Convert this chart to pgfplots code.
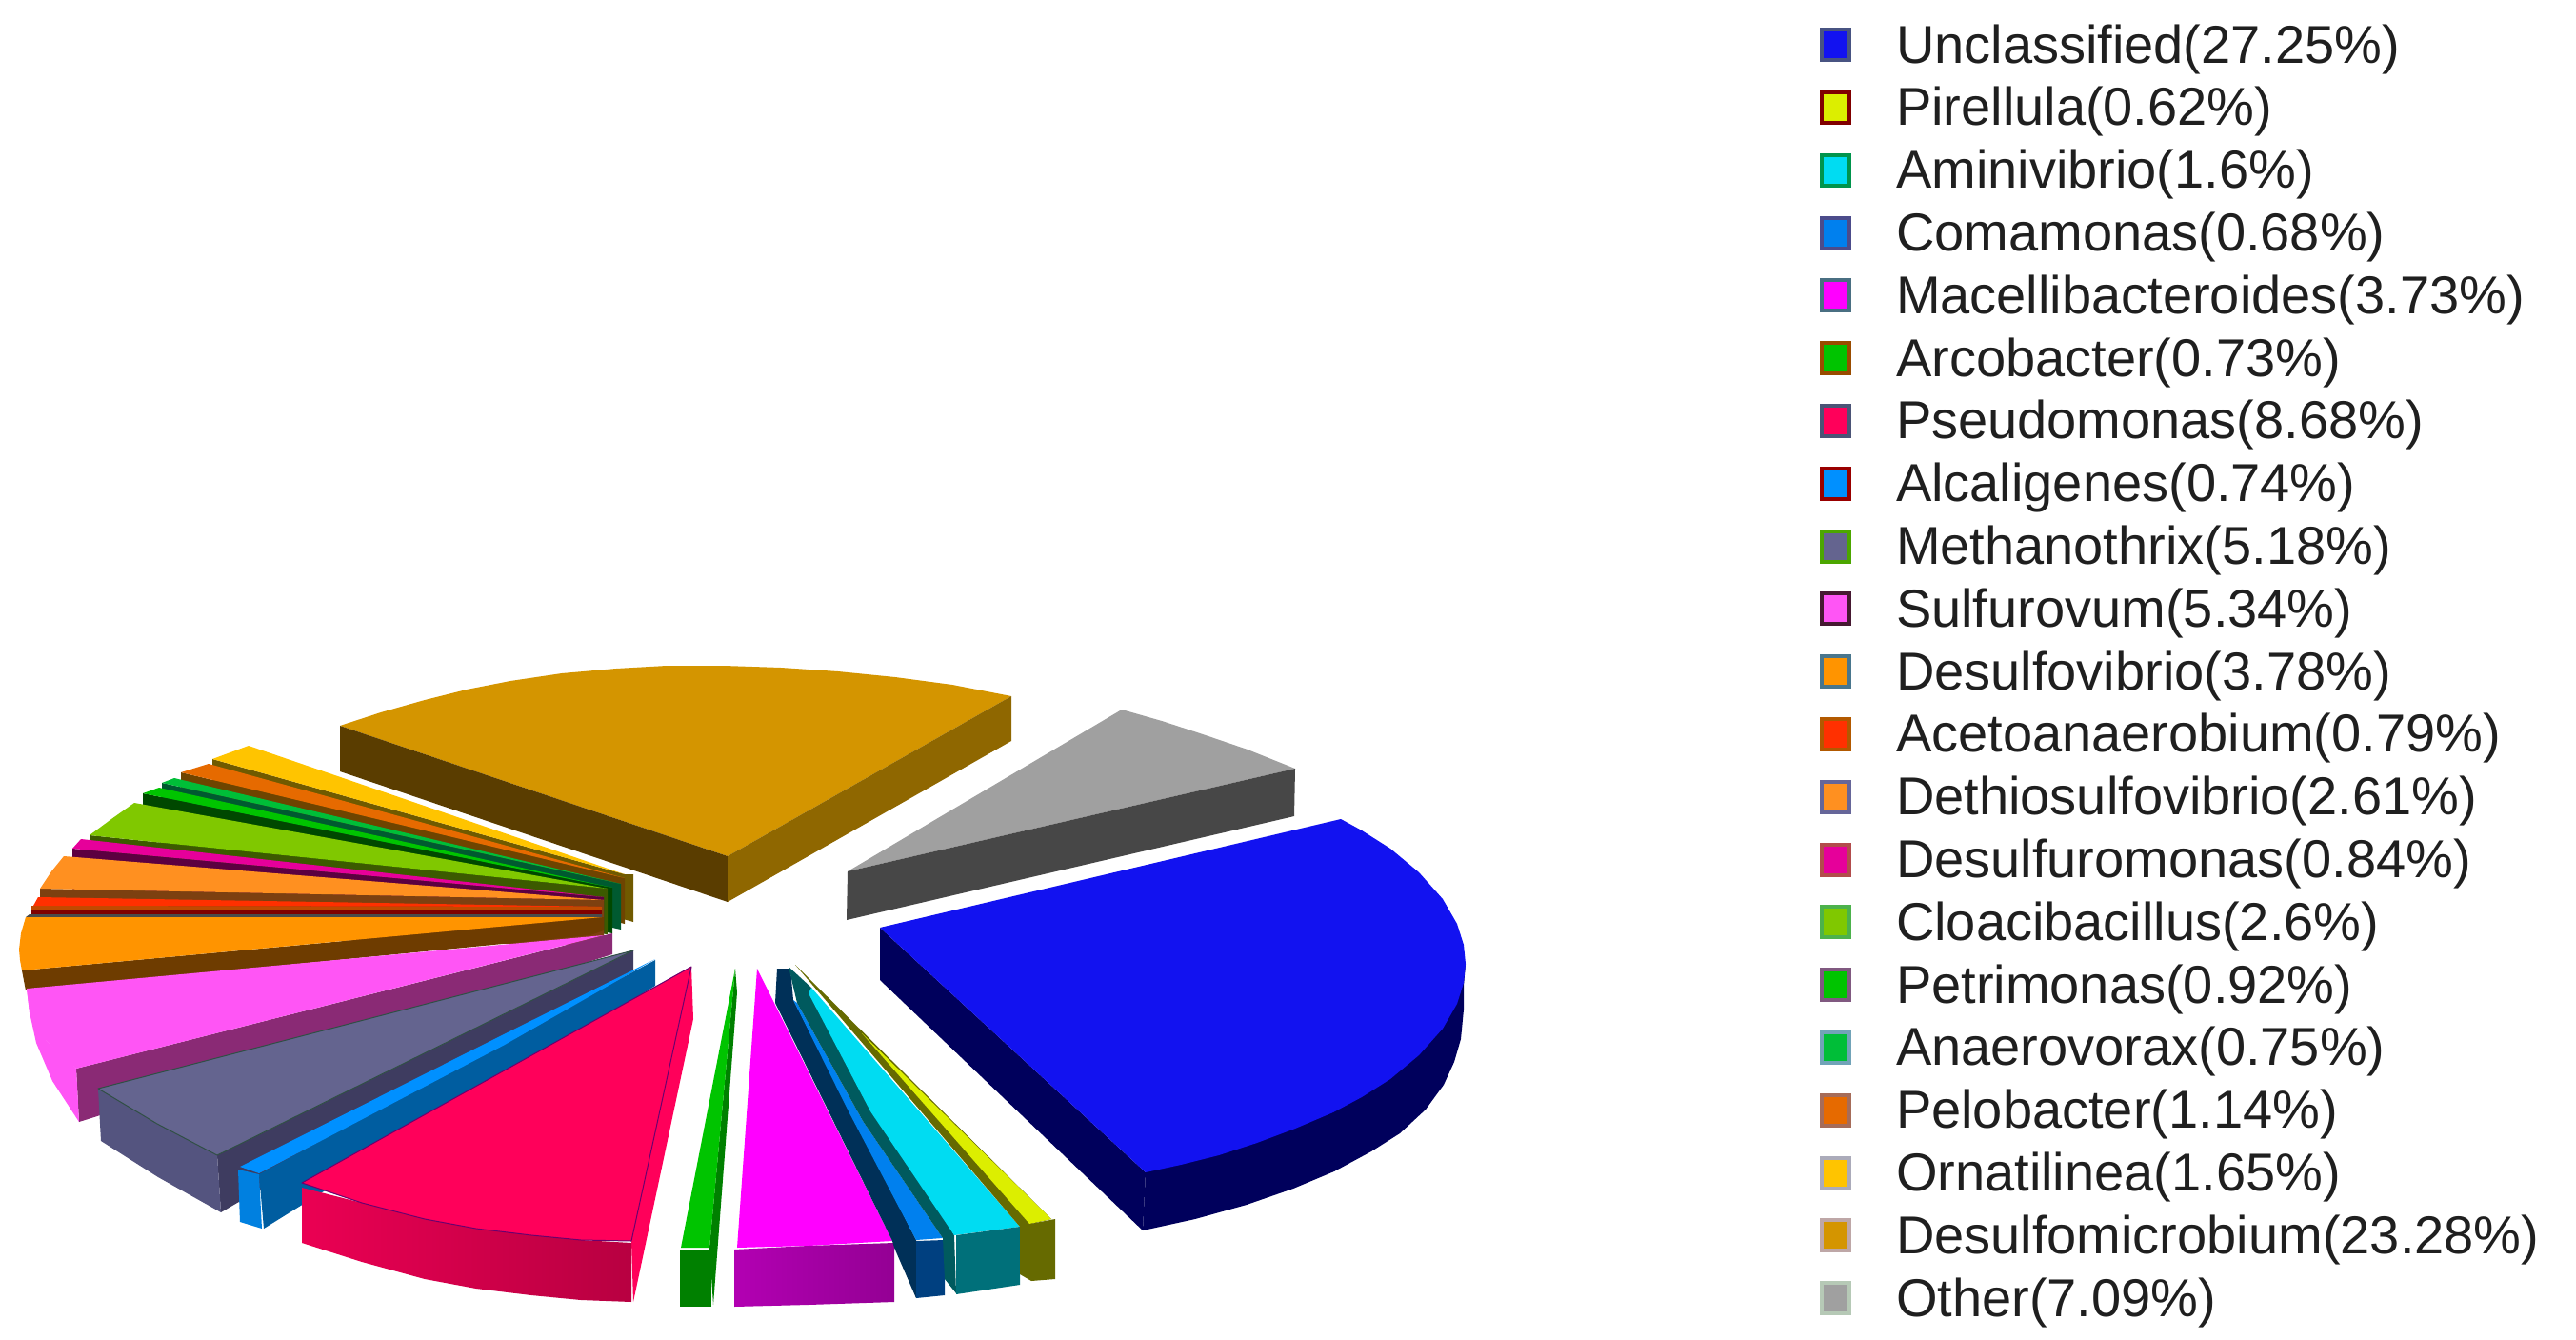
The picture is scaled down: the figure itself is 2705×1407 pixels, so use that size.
\documentclass[border=0pt]{standalone}
\usepackage{pgfplots}
\pgfplotsset{compat=1.18}
\usepackage{fontspec}
\setmainfont{Liberation Sans}
\definecolor{uncl}{HTML}{1212F0}
\definecolor{uncld}{HTML}{00005C}
\definecolor{pire}{HTML}{DCEE00}
\definecolor{pired}{HTML}{666A00}
\definecolor{amin}{HTML}{00DCF2}
\definecolor{amind}{HTML}{005A5E}
\definecolor{aminf}{HTML}{00707A}
\definecolor{coma}{HTML}{0080EE}
\definecolor{comad}{HTML}{003058}
\definecolor{comaf}{HTML}{004080}
\definecolor{mace}{HTML}{FF00FF}
\definecolor{arco}{HTML}{00C400}
\definecolor{arcod}{HTML}{008000}
\definecolor{pseu}{HTML}{FF005A}
\definecolor{alca}{HTML}{0090FF}
\definecolor{alcaf}{HTML}{0080E0}
\definecolor{alcad}{HTML}{005DA0}
\definecolor{meth}{HTML}{64648F}
\definecolor{methd}{HTML}{3E3C60}
\definecolor{methf}{HTML}{54547F}
\definecolor{sulf}{HTML}{FF55F5}
\definecolor{sulfd}{HTML}{8A2A75}
\definecolor{desv}{HTML}{FF9400}
\definecolor{desvd}{HTML}{6E3C00}
\definecolor{acet}{HTML}{FF3000}
\definecolor{acetm}{HTML}{C04A00}
\definecolor{acetd}{HTML}{800000}
\definecolor{acetg}{HTML}{4A4A4A}
\definecolor{deth}{HTML}{FF9020}
\definecolor{dethd}{HTML}{7D4010}
\definecolor{dsfr}{HTML}{E6009A}
\definecolor{dsfrd}{HTML}{5C0040}
\definecolor{cloa}{HTML}{80C800}
\definecolor{cload}{HTML}{3C5A00}
\definecolor{petr}{HTML}{00C400}
\definecolor{petrd}{HTML}{004800}
\definecolor{anae}{HTML}{00BE38}
\definecolor{anaed}{HTML}{005A30}
\definecolor{pelo}{HTML}{E66A00}
\definecolor{pelod}{HTML}{6E4400}
\definecolor{orna}{HTML}{FFC400}
\definecolor{ornad}{HTML}{705A00}
\definecolor{gold}{HTML}{D49500}
\definecolor{goldl}{HTML}{5A3D00}
\definecolor{goldr}{HTML}{8F6700}
\definecolor{othr}{HTML}{A0A0A0}
\definecolor{othrd}{HTML}{474747}
\pgfplotsset{
  sl/.style={forget plot,mark=none,draw=none,fill=#1},
  ed/.style={draw=#1,line width=1pt,line join=round},
  sq/.style 2 args={legend image code/.code={
    \draw[fill=#1,draw=#2,line width=4pt] (2pt,-13pt) rectangle (31pt,19pt);}}
}
\begin{document}
\begin{tikzpicture}
\useasboundingbox (0,0) rectangle (2705pt,1407pt);
\begin{axis}[
  at={(0,0)},anchor=south west,
  scale only axis,width=2705pt,height=1407pt,
  xmin=0,xmax=2705,ymin=0,ymax=1407,y dir=reverse,
  hide axis,clip=false,
  legend cell align=left,
  legend style={at={(axis cs:1911,22)},anchor=north west,draw=none,fill=none,
    inner sep=0pt,outer sep=0pt,row sep=9.3pt,
    font=\fontsize{56}{60}\selectfont,text=black!88,
    nodes={inner sep=0pt,text height=44pt,text depth=12.5pt},
    /tikz/column 1/.style={column sep=47pt}}
]
% gold
\addplot[sl=gold] coordinates {(357,762)(400,748)(446,735)(490,724)(536,715)(590,707)(647,702)(700,699)(760,699)(820,701)(880,705)(940,711)(1000,719)(1062,731)(764,899)} --cycle;
\addplot[sl=goldl] coordinates {(357,762)(764,899)(764,947)(357,810)} --cycle;
\addplot[sl=goldr] coordinates {(764,899)(1062,731)(1062,778)(764,947)} --cycle;
% other
\addplot[sl=othr] coordinates {(890,915)(1178,745)(1220,757)(1263,771)(1310,787)(1360,807)} --cycle;
\addplot[sl=othrd] coordinates {(890,915)(1360,807)(1359,857)(889,966)} --cycle;
% unclassified
\addplot[sl=uncld] coordinates {(924,974)(1203,1231)(1200,1292)(924,1029)} --cycle;
\addplot[sl=uncld] coordinates {(1203,1231)(1539,1012)(1537,1035)(1537,1060)(1534,1091)(1527,1115)(1516,1139)(1497,1165)(1470,1190)(1440,1209)(1401,1230)(1358,1248)(1309,1265)(1255,1280)(1200,1292)} --cycle;
\addplot[sl=uncl] coordinates {(924,974)(1408,860)(1430,872)(1460,891)(1490,916)(1515,944)(1530,970)(1537,992)(1539,1012)(1537,1032)(1530,1054)(1515,1080)(1490,1108)(1460,1133)(1430,1152)(1400,1168)(1360,1185)(1320,1200)(1280,1213)(1240,1223)(1203,1231)} --cycle;
% left fan, back to front
\addplot[sl=ornad] coordinates {(223,797)(656,918)(665,918)(665,968)(223,845)} --cycle;
\addplot[sl=orna] coordinates {(223,797)(261,783)(656,918)} --cycle;
\addplot[sl=pelod] coordinates {(190,811)(656,922)(656,970)(190,859)} --cycle;
\addplot[sl=pelo] coordinates {(190,811)(219,802)(656,922)} --cycle;
\addplot[sl=anaed] coordinates {(170,822)(652,928)(652,976)(170,870)} --cycle;
\addplot[sl=anae] coordinates {(170,822)(183,817)(652,928)} --cycle;
\addplot[sl=petrd] coordinates {(150,833)(643,932)(643,980)(150,881)} --cycle;
\addplot[sl=petr] coordinates {(150,833)(167,827)(643,932)} --cycle;
\addplot[sl=cload] coordinates {(94,877)(638,933)(638,981)(94,925)} --cycle;
\addplot[sl=cloa] coordinates {(94,877)(117,860)(141,843)(638,933)} --cycle;
\addplot[sl=dsfrd] coordinates {(76,891)(634,942)(634,990)(76,939)} --cycle;
\addplot[sl=dsfr] coordinates {(76,891)(85,881)(634,942)} --cycle;
\addplot[sl=dethd] coordinates {(42,933)(634,945)(634,993)(42,981)} --cycle;
\addplot[sl=deth] coordinates {(42,933)(54,915)(67,899)(634,945)} --cycle;
\addplot[sl=acetm] coordinates {(33,951)(632,952)(632,956)(33,956)} --cycle;
\addplot[sl=acetd] coordinates {(33,956)(632,956)(632,960)(33,960)} --cycle;
\addplot[sl=acetg] coordinates {(31,960)(632,960)(632,963)(27,963)} --cycle;
\addplot[sl=acet] coordinates {(35,951)(40,942)(632,952)} --cycle;
\addplot[sl=desvd] coordinates {(23,1019)(634,963)(634,977)(620,982)(27,1040)} --cycle;
\addplot[sl=desv] coordinates {(23,1019)(21,1008)(20,997)(22,980)(27,963)(632,963)} --cycle;
% sulfurovum
\addplot[sl=sulfd] coordinates {(80,1122)(643,980)(643,1002)(83,1178)} --cycle;
\addplot[sl=sulf] coordinates {(28,1038)(31,1063)(38,1095)(55,1135)(83,1178)(80,1122)(49,1093)} --cycle;
\addplot[sl=sulf] coordinates {(28,1038)(31,1063)(39,1079)(49,1093)(63,1108)(80,1122)(634,982)} --cycle;
% methanothrix
\addplot[sl=methd] coordinates {(228,1213)(665,998)(665,1020)(232,1273)} --cycle;
\addplot[sl=methf] coordinates {(103,1143)(165,1180)(228,1213)(232,1273)(166,1236)(106,1198)} --cycle;
\addplot[sl=meth,ed=meth!80!green!60!black] coordinates {(103,1143)(665,998)(228,1213)(165,1180)} --cycle;
% alcaligenes
\addplot[sl=alcad] coordinates {(272,1233)(688,1008)(688,1035)(277,1290)} --cycle;
\addplot[sl=alcaf] coordinates {(250,1228)(272,1233)(275,1290)(252,1283)} --cycle;
\addplot[sl=alca] coordinates {(252,1225)(272,1232)(530,1097)(688,1007)(525,1088)} --cycle;
% pseudomonas
\addplot[sl=pseu] coordinates {(663,1303)(726,1015)(728,1070)(665,1367)} --cycle;
\addplot[forget plot,mark=none,draw=none,left color=pseu!92!black,right color=pseu!72!black] coordinates {(317,1247)(380,1263)(446,1280)(500,1290)(558,1297)(610,1302)(663,1305)(663,1367)(610,1365)(558,1360)(500,1353)(446,1343)(380,1325)(317,1305)} --cycle;
\addplot[sl=pseu,ed=pseu!60!blue!70!black] coordinates {(317,1242)(726,1015)(663,1303)(610,1302)(558,1297)(500,1290)(446,1280)(380,1263)} --cycle;
% arcobacter
\addplot[sl=arcod] coordinates {(745,1310)(772,1017)(774,1042)(749,1370)} --cycle;
\addplot[sl=arco] coordinates {(715,1310)(745,1310)(772,1017)} --cycle;
\addplot[sl=arcod] coordinates {(714,1313)(747,1313)(747,1372)(714,1372)} --cycle;
% macellibacteroides
\addplot[sl=mace] coordinates {(774,1310)(849,1308)(937,1303)(795,1017)} --cycle;
\addplot[forget plot,mark=none,draw=none,left color=mace!70!black,right color=mace!58!black] coordinates {(771,1312)(849,1308)(939,1305)(939,1367)(849,1370)(771,1372)} --cycle;
% comamonas
\addplot[sl=comad] coordinates {(816,1017)(830,1017)(833,1050)(962,1302)(962,1363)(939,1310)(937,1303)(814,1053)} --cycle;
\addplot[sl=coma] coordinates {(833,1050)(891,1167)(962,1302)(990,1300)(906,1177)(837,1053)} --cycle;
\addplot[sl=comaf] coordinates {(962,1303)(992,1302)(992,1360)(962,1363)} --cycle;
% aminivibrio
\addplot[sl=amind] coordinates {(828,1015)(852,1037)(1002,1297)(1004,1358)(992,1343)(990,1300)(906,1177)(837,1053)} --cycle;
\addplot[sl=amin] coordinates {(852,1037)(983,1187)(1071,1288)(1002,1297)(914,1167)(849,1043)} --cycle;
\addplot[sl=aminf] coordinates {(1004,1297)(1071,1288)(1071,1349)(1004,1359)} --cycle;
% pirellula
\addplot[sl=pired] coordinates {(835,1013)(1104,1280)(1083,1285)(1083,1345)(1071,1338)(1071,1288)} --cycle;
\addplot[sl=pire] coordinates {(905,1085)(1104,1280)(1081,1285)} --cycle;
\addplot[sl=pired] coordinates {(1082,1285)(1108,1280)(1108,1343)(1083,1345)} --cycle;
% legend
\addlegendimage{sq={uncl}{cyan!30!blue!60!black}}\addlegendentry{Unclassified(27.25\%)}
\addlegendimage{sq={pire}{red!50!black}}\addlegendentry{Pirellula(0.62\%)}
\addlegendimage{sq={amin}{green!40!black!70!cyan}}\addlegendentry{Aminivibrio(1.6\%)}
\addlegendimage{sq={coma}{blue!35!black!70}}\addlegendentry{Comamonas(0.68\%)}
\addlegendimage{sq={mace}{cyan!45!black}}\addlegendentry{Macellibacteroides(3.73\%)}
\addlegendimage{sq={arco}{orange!60!black}}\addlegendentry{Arcobacter(0.73\%)}
\addlegendimage{sq={pseu}{cyan!35!blue!50!black}}\addlegendentry{Pseudomonas(8.68\%)}
\addlegendimage{sq={alca}{red!60!black}}\addlegendentry{Alcaligenes(0.74\%)}
\addlegendimage{sq={meth}{green!50!black!70!yellow}}\addlegendentry{Methanothrix(5.18\%)}
\addlegendimage{sq={sulf}{blue!35!red!30!black!90}}\addlegendentry{Sulfurovum(5.34\%)}
\addlegendimage{sq={desv}{cyan!50!black}}\addlegendentry{Desulfovibrio(3.78\%)}
\addlegendimage{sq={acet}{orange!70!black}}\addlegendentry{Acetoanaerobium(0.79\%)}
\addlegendimage{sq={deth}{blue!20!gray}}\addlegendentry{Dethiosulfovibrio(2.61\%)}
\addlegendimage{sq={dsfr}{red!40!gray}}\addlegendentry{Desulfuromonas(0.84\%)}
\addlegendimage{sq={cloa}{green!40!gray}}\addlegendentry{Cloacibacillus(2.6\%)}
\addlegendimage{sq={petr}{violet!30!gray}}\addlegendentry{Petrimonas(0.92\%)}
\addlegendimage{sq={anae}{cyan!40!gray}}\addlegendentry{Anaerovorax(0.75\%)}
\addlegendimage{sq={pelo}{orange!50!red!30!gray}}\addlegendentry{Pelobacter(1.14\%)}
\addlegendimage{sq={orna}{blue!10!gray!60}}\addlegendentry{Ornatilinea(1.65\%)}
\addlegendimage{sq={gold}{red!15!gray!60}}\addlegendentry{Desulfomicrobium(23.28\%)}
\addlegendimage{sq={othr}{green!15!gray!50}}\addlegendentry{Other(7.09\%)}
\end{axis}
\end{tikzpicture}
\end{document}
